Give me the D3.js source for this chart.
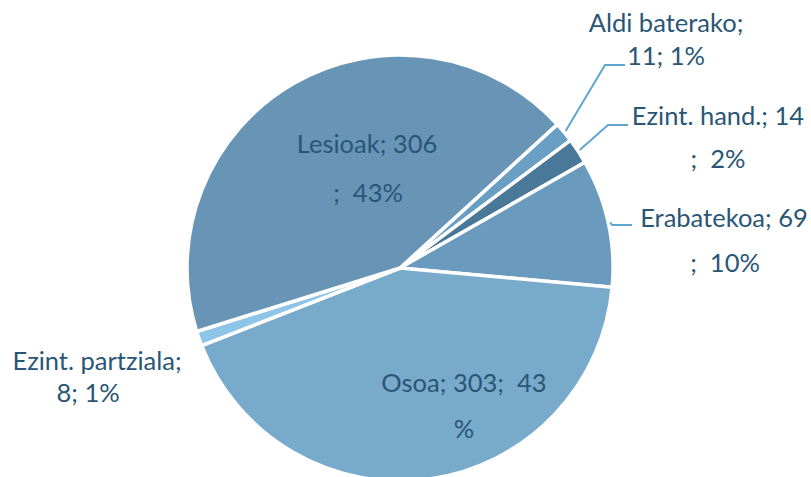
<!DOCTYPE html>
<html>
<head>
<meta charset="utf-8">
<script src="https://cdn.jsdelivr.net/npm/d3@7"></script>
<style>
  body { margin: 0; background: #fff; }
  text { font-family: Lato, "Open Sans", sans-serif; fill: #2a5676; }
</style>
</head>
<body>
<svg id="chart" width="811" height="477"></svg>
<script>
// slice data, clockwise from the upper right
var names    = ["Aldi baterako", "Ezint. hand.", "Erabatekoa", "Osoa", "Ezint. partziala", "Lesioak"];
var values   = [11, 14, 69, 303, 8, 306];
var percents = [1, 2, 10, 43, 1, 43];

// how each label wraps in the picture
var labelText = [
  [names[0] + ";", values[0] + "; " + percents[0] + "%"],
  [names[1] + "; " + values[1], ";  " + percents[1] + "%"],
  [names[2] + "; " + values[2], ";  " + percents[2] + "%"],
  [names[3] + "; " + values[3] + ";  " + percents[3], "%"],
  [names[4] + ";", values[4] + "; " + percents[4] + "%"],
  [names[5] + "; " + values[5], ";  " + percents[5] + "%"]
];

var colors = ["#6a9fc4", "#4a7898", "#6a9bbe", "#78aacb", "#8dc5e8", "#6895b6"];

var W = 811, H = 477;
var cx = 400, cy = 268, R = 213;
var START = 47.6 * Math.PI / 180;

// label placement (Excel labels were moved by hand)
var layout = [
  {lines: [[666, 32], [666, 65]],   leader: [625, 65]},
  {lines: [[718, 125], [718, 168]], leader: [628, 125]},
  {lines: [[724, 227], [725, 272]], leader: [632, 225]},
  {lines: [[464, 392], [464, 438]], leader: null},
  {lines: [[97, 370], [88, 402]],   leader: null},
  {lines: [[367, 153], [368, 202]], leader: null}
];

var svg = d3.select("#chart");

var pie = d3.pie().sort(null).value(function(d){ return d; })
  .startAngle(START).endAngle(START + 2 * Math.PI);
var arcs = pie(values);

var arc = d3.arc().innerRadius(0).outerRadius(R);

var g = svg.append("g").attr("transform", "translate(" + cx + "," + cy + ")");

g.selectAll("path.slice")
  .data(arcs)
  .enter().append("path")
  .attr("class", "slice")
  .attr("d", arc)
  .attr("fill", function(d, i){ return colors[i]; })
  .attr("stroke", "#fff")
  .attr("stroke-width", 3.5)
  .attr("stroke-linejoin", "round");

//---------------- leader lines --------------------
arcs.forEach(function(d, i){
  var L = layout[i];
  if (!L.leader) return;
  var mid = (d.startAngle + d.endAngle) / 2;
  var sx = cx + (R + 2) * Math.sin(mid);
  var sy = cy - (R + 2) * Math.cos(mid);
  var ex = L.leader[0], ey = L.leader[1];
  var bx = Math.max(sx + 2, ex - 20);
  svg.append("path")
    .attr("d", "M" + sx + "," + sy + "L" + bx + "," + ey + "L" + ex + "," + ey)
    .attr("fill", "none")
    .attr("stroke", "#5fa7d2")
    .attr("stroke-width", 2);
});

//---------------- labels --------------------
labelText.forEach(function(lines, i){
  lines.forEach(function(t, j){
    var p = layout[i].lines[j];
    svg.append("text")
      .attr("x", p[0]).attr("y", p[1])
      .attr("text-anchor", "middle")
      .attr("font-size", "25.5px")
      .attr("xml:space", "preserve")
      .style("white-space", "pre")
      .text(t);
  });
});
</script>
</body>
</html>
